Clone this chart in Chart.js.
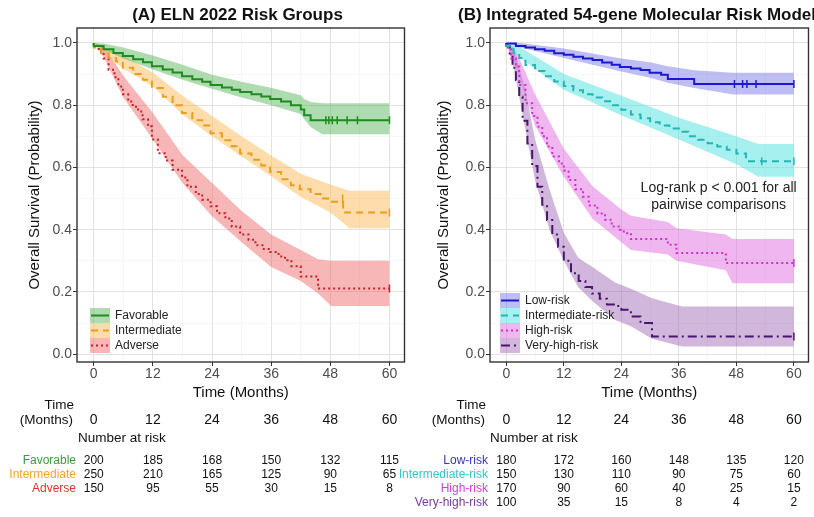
<!DOCTYPE html>
<html>
<head>
<meta charset="utf-8">
<script src="https://cdn.jsdelivr.net/npm/chart.js@4.4.0/dist/chart.umd.min.js"></script>
<style>
  html, body { margin: 0; padding: 0; background: #fff; }
  #wrap { position: relative; width: 814px; height: 517px; overflow: hidden; }
  canvas { position: absolute; top: 0; }
  #chartA { left: 0; }
  #chartB { left: 400px; }
</style>
</head>
<body>
<div id="wrap">
  <canvas id="chartA" width="410" height="517"></canvas>
  <canvas id="chartB" width="414" height="517"></canvas>
</div>
<script>
// Kaplan-Meier curves: ELN 2022 vs 54-gene model

const xTickVals = [0, 6, 12, 18, 24, 30, 36, 42, 48, 54, 60];
const yTickVals = [0, 0.1, 0.2, 0.3, 0.4, 0.5, 0.6, 0.7, 0.8, 0.9, 1.0];
const riskTimes = [0, 12, 24, 36, 48, 60];

// ---- Panel A: ELN 2022 ----
const favTime = [0, 2, 4, 5.9, 8, 10, 11.8, 14, 16, 17.9, 20, 22, 23.7, 26, 28, 29.7, 32, 34, 35.8, 38, 40, 42, 42.7, 44, 46.4, 60];
const favSurv = [1, 0.99, 0.98, 0.968, 0.958, 0.948, 0.938, 0.925, 0.915, 0.905, 0.893, 0.883, 0.875, 0.865, 0.857, 0.85, 0.842, 0.835, 0.828, 0.82, 0.812, 0.80, 0.786, 0.768, 0.752, 0.752];
const favBandTime = [0, 2, 6, 12, 18, 24, 30, 36, 42, 42.7, 44, 46.4, 60];
const favLow = [1, 0.978, 0.95, 0.915, 0.882, 0.853, 0.825, 0.80, 0.772, 0.755, 0.73, 0.707, 0.707];
const favHigh = [1, 0.998, 0.985, 0.96, 0.93, 0.898, 0.875, 0.856, 0.832, 0.82, 0.81, 0.806, 0.806];
const favCensor = [47.1, 47.7, 48.4, 49.4, 51.4, 53.5, 60];

const intTime = [0, 1.5, 3, 4.5, 5.9, 8, 10, 11.8, 14, 16, 17.9, 20, 22, 23.7, 26, 28, 29.7, 32, 34, 35.8, 38, 40, 41.8, 44, 46, 47.9, 50.6, 51.9, 60];
const intSurv = [1, 0.985, 0.967, 0.952, 0.94, 0.92, 0.90, 0.882, 0.855, 0.827, 0.80, 0.775, 0.752, 0.735, 0.71, 0.687, 0.668, 0.645, 0.625, 0.606, 0.585, 0.562, 0.543, 0.53, 0.515, 0.50, 0.49, 0.455, 0.455];
const intBandTime = [0, 3, 6, 12, 18, 24, 30, 36, 42, 48, 51.9, 60];
const intLow = [1, 0.955, 0.918, 0.86, 0.77, 0.70, 0.635, 0.572, 0.505, 0.455, 0.405, 0.405];
const intHigh = [1, 0.98, 0.958, 0.905, 0.83, 0.765, 0.70, 0.638, 0.58, 0.545, 0.525, 0.525];
const intCensor = [50.5, 60];

const advTime = [0, 1, 2, 3, 4.2, 5, 5.9, 7, 7.9, 9, 9.9, 11, 11.8, 13, 14.6, 16, 17.9, 19, 20.7, 22, 23.7, 25, 26.7, 28, 29.7, 31.4, 32.8, 34.5, 35.8, 37.5, 38.8, 40.1, 42, 45.5, 48.2, 60];
const advSurv = [1, 0.99, 0.972, 0.95, 0.914, 0.89, 0.86, 0.835, 0.812, 0.795, 0.78, 0.755, 0.732, 0.69, 0.646, 0.622, 0.593, 0.568, 0.538, 0.515, 0.496, 0.475, 0.453, 0.436, 0.41, 0.385, 0.368, 0.35, 0.338, 0.328, 0.314, 0.302, 0.283, 0.25, 0.211, 0.211];
const advBandTime = [0, 2, 6, 12, 18, 24, 30, 36, 42, 45.5, 48.2, 60];
const advLow = [1, 0.955, 0.825, 0.69, 0.55, 0.443, 0.36, 0.28, 0.235, 0.195, 0.155, 0.155];
const advHigh = [1, 0.99, 0.895, 0.775, 0.64, 0.55, 0.46, 0.385, 0.335, 0.305, 0.30, 0.30];
const advCensor = [60];

const atRiskFavorable = [200, 185, 168, 150, 132, 115];
const atRiskIntermediate = [250, 210, 165, 125, 90, 65];
const atRiskAdverse = [150, 95, 55, 30, 15, 8];

// ---- Panel B: 54-gene model ----
const lowTime = [0, 2, 4, 6, 8, 10, 12, 14, 16, 18, 20, 22, 23.7, 26, 28, 29.9, 32.3, 33.7, 39.2, 47.3, 60];
const lowSurv = [1, 0.998, 0.99, 0.985, 0.98, 0.975, 0.967, 0.962, 0.956, 0.95, 0.945, 0.937, 0.93, 0.923, 0.918, 0.913, 0.904, 0.898, 0.884, 0.868, 0.868];
const lowBandTime = [0, 3, 12, 24, 30, 33.7, 39.2, 47.3, 60];
const lowLow = [1, 0.985, 0.952, 0.908, 0.888, 0.872, 0.855, 0.834, 0.834];
const lowHigh = [1, 1.0, 0.982, 0.95, 0.938, 0.925, 0.912, 0.904, 0.904];
const lowCensor = [47.6, 49.3, 50.2, 52.1, 60];

const imrTime = [0, 1.5, 2.7, 4, 6, 8, 10, 12, 14, 16, 18, 20, 22, 24, 26, 28, 30, 32, 34, 36, 38, 40, 42, 44, 46, 48, 50, 52.6, 60];
const imrSurv = [1, 0.99, 0.967, 0.952, 0.929, 0.91, 0.893, 0.876, 0.862, 0.848, 0.835, 0.825, 0.813, 0.80, 0.785, 0.77, 0.758, 0.745, 0.735, 0.725, 0.715, 0.70, 0.689, 0.678, 0.667, 0.657, 0.645, 0.62, 0.62];
const imrBandTime = [0, 3, 12, 24, 36, 48, 52.6, 60];
const imrLow = [1, 0.95, 0.85, 0.768, 0.69, 0.61, 0.57, 0.57];
const imrHigh = [1, 0.985, 0.90, 0.83, 0.76, 0.70, 0.675, 0.675];
const imrCensor = [53.3, 60];

const hiTime = [0, 1, 2, 2.7, 4, 5.4, 6.5, 7.5, 8.5, 9.6, 11, 12, 13, 14.4, 16, 17.2, 19, 20.6, 22, 23.7, 24.5, 26, 33.7, 35.5, 45.8, 47.2, 60];
const hiSurv = [1, 0.985, 0.95, 0.924, 0.865, 0.806, 0.765, 0.731, 0.70, 0.667, 0.635, 0.613, 0.59, 0.56, 0.53, 0.506, 0.478, 0.452, 0.432, 0.41, 0.40, 0.389, 0.37, 0.352, 0.325, 0.293, 0.293];
const hiBandTime = [0, 2, 6, 12, 18, 24, 26, 33.7, 35.5, 45.8, 47.2, 60];
const hiLow = [1, 0.925, 0.735, 0.57, 0.435, 0.36, 0.335, 0.32, 0.30, 0.27, 0.228, 0.228];
const hiHigh = [1, 0.975, 0.835, 0.66, 0.54, 0.465, 0.445, 0.425, 0.405, 0.385, 0.37, 0.37];
const hiCensor = [60];

const vhTime = [0, 0.7, 1.3, 2, 2.7, 3.4, 4.4, 5.4, 6.5, 7.5, 8.5, 9.6, 10.8, 12, 13.5, 15.1, 16.5, 17.9, 19.5, 21, 22.7, 24, 26, 28, 30.4, 36.7, 60];
const vhSurv = [1, 0.99, 0.956, 0.92, 0.88, 0.827, 0.75, 0.677, 0.605, 0.538, 0.48, 0.431, 0.385, 0.345, 0.30, 0.26, 0.235, 0.216, 0.195, 0.178, 0.16, 0.155, 0.143, 0.121, 0.10, 0.057, 0.057];
const vhBandTime = [0, 1.5, 4, 6, 9, 12, 15, 18, 22.7, 26, 30.4, 36.7, 60];
const vhLow = [1, 0.925, 0.72, 0.56, 0.40, 0.30, 0.215, 0.17, 0.11, 0.09, 0.05, 0.025, 0.025];
const vhHigh = [1, 0.985, 0.85, 0.69, 0.53, 0.39, 0.31, 0.28, 0.23, 0.21, 0.18, 0.153, 0.153];
const vhCensor = [60];

const atRiskLow = [180, 172, 160, 148, 135, 120];
const atRiskIntRisk = [150, 130, 110, 90, 75, 60];
const atRiskHigh = [170, 90, 60, 40, 25, 15];
const atRiskVeryHigh = [100, 35, 15, 8, 4, 2];

const FONT = '"Liberation Sans", Arial, Helvetica, sans-serif';

function toXY(xs, ys) {
    return xs.map((x, i) => ({ x: x, y: ys[i] }));
}

// value of a step curve at time t (no interpolation)
function stepAt(xs, ys, t) {
    let v = ys[0];
    for (let i = 0; i < xs.length; i++) {
        if (xs[i] <= t) v = ys[i];
    }
    return v;
}

const groupsA = [
    { label: 'Favorable', color: '#1e8c1e', band: 'rgba(76,175,80,0.45)', text: '#3c9c3c', dash: [],
      time: favTime, surv: favSurv, bandTime: favBandTime, low: favLow, high: favHigh, censor: favCensor, atRisk: atRiskFavorable },
    { label: 'Intermediate', color: '#e8a01a', band: 'rgba(253,185,90,0.5)', text: '#f5a52a', dash: [7, 5],
      time: intTime, surv: intSurv, bandTime: intBandTime, low: intLow, high: intHigh, censor: intCensor, atRisk: atRiskIntermediate },
    { label: 'Adverse', color: '#c8202a', band: 'rgba(240,95,95,0.45)', text: '#e0342c', dash: [2, 3],
      time: advTime, surv: advSurv, bandTime: advBandTime, low: advLow, high: advHigh, censor: advCensor, atRisk: atRiskAdverse }
];

const groupsB = [
    { label: 'Low-risk', color: '#1a1acc', band: 'rgba(110,110,230,0.45)', text: '#3535b5', dash: [],
      time: lowTime, surv: lowSurv, bandTime: lowBandTime, low: lowLow, high: lowHigh, censor: lowCensor, atRisk: atRiskLow },
    { label: 'Intermediate-risk', color: '#25b5b5', band: 'rgba(80,225,225,0.5)', text: '#35c5c8', dash: [7, 5],
      time: imrTime, surv: imrSurv, bandTime: imrBandTime, low: imrLow, high: imrHigh, censor: imrCensor, atRisk: atRiskIntRisk },
    { label: 'High-risk', color: '#d030d0', band: 'rgba(225,110,225,0.5)', text: '#d23fd2', dash: [2, 3],
      time: hiTime, surv: hiSurv, bandTime: hiBandTime, low: hiLow, high: hiHigh, censor: hiCensor, atRisk: atRiskHigh },
    { label: 'Very-high-risk', color: '#4b1470', band: 'rgba(150,95,175,0.45)', text: '#7a3a9a', dash: [9, 4, 2, 4],
      time: vhTime, surv: vhSurv, bandTime: vhBandTime, low: vhLow, high: vhHigh, censor: vhCensor, atRisk: atRiskVeryHigh }
];

function buildDatasets(groups) {
    const ds = [];
    // confidence bands first (upper, then lower filled to it)
    groups.forEach(g => {
        ds.push({ data: toXY(g.bandTime, g.high), borderColor: 'transparent', borderWidth: 0,
                  pointRadius: 0, fill: false, order: 1 });
        ds.push({ data: toXY(g.bandTime, g.low), borderColor: 'transparent', borderWidth: 0,
                  pointRadius: 0, fill: '-1', backgroundColor: g.band, order: 1 });
    });
    groups.forEach(g => {
        ds.push({ label: g.label, data: toXY(g.time, g.surv), stepped: 'after',
                  borderColor: g.color, borderWidth: 2, borderDash: g.dash,
                  pointRadius: 0, fill: false, order: 0 });
        // censor ticks
        ds.push({ data: g.censor.map(t => ({ x: t, y: stepAt(g.time, g.surv, t) })),
                  showLine: false, borderColor: g.color, pointStyle: 'line', pointRotation: 90,
                  pointRadius: 4, pointBorderColor: g.color, pointBorderWidth: 1.5, order: 0 });
    });
    return ds;
}

function decor(p) {
    return {
        id: 'decor',
        afterDraw(chart) {
            const ctx = chart.ctx;
            const a = chart.chartArea;
            const xs = chart.scales.x;
            ctx.save();

            // panel border
            ctx.strokeStyle = '#333';
            ctx.lineWidth = 1.4;
            ctx.setLineDash([]);
            ctx.strokeRect(a.left, a.top, a.right - a.left, a.bottom - a.top);

            // title
            ctx.fillStyle = '#111';
            ctx.textBaseline = 'middle';
            ctx.textAlign = p.titleAlign;
            ctx.font = 'bold 17px ' + FONT;
            ctx.fillText(p.title, p.titleX, 15);

            // legend inside the panel
            const rowH = 15;
            const lx = a.left + p.legendDx;
            const top = a.bottom - 9 - p.groups.length * rowH;
            ctx.font = '12px ' + FONT;
            p.groups.forEach((g, i) => {
                const y = top + i * rowH;
                ctx.fillStyle = g.band;
                ctx.fillRect(lx, y, 20, rowH);
                ctx.strokeStyle = g.color;
                ctx.lineWidth = 2;
                ctx.setLineDash(g.dash);
                ctx.beginPath();
                ctx.moveTo(lx + 1, y + rowH / 2);
                ctx.lineTo(lx + 19, y + rowH / 2);
                ctx.stroke();
                ctx.setLineDash([]);
                ctx.fillStyle = '#222';
                ctx.textAlign = 'left';
                ctx.fillText(g.label, lx + 25, y + rowH / 2 + 0.5);
            });

            // annotation
            if (p.note) {
                ctx.font = '14px ' + FONT;
                ctx.fillStyle = '#222';
                ctx.textAlign = 'center';
                const nx = xs.getPixelForValue(44.3);
                p.note.forEach((line, i) => {
                    ctx.fillText(line, nx, chart.scales.y.getPixelForValue(0.534) + i * 17);
                });
            }

            // number-at-risk table
            ctx.fillStyle = '#111';
            ctx.font = '13.5px ' + FONT;
            ctx.textAlign = 'right';
            ctx.fillText('Time', p.labelRight - 2, 405);
            ctx.fillText('(Months)', p.labelRight - 3, 420);
            ctx.font = '14px ' + FONT;
            ctx.textAlign = 'center';
            riskTimes.forEach(t => ctx.fillText(String(t), xs.getPixelForValue(t), 420));
            ctx.font = '13.5px ' + FONT;
            ctx.textAlign = 'left';
            ctx.fillText('Number at risk', p.labelRight + 2, 438);

            ctx.font = '12px ' + FONT;
            p.groups.forEach((g, i) => {
                const y = 461 + i * 14;
                ctx.textAlign = 'right';
                ctx.fillStyle = g.text;
                ctx.fillText(g.label, p.labelRight, y);
                ctx.textAlign = 'center';
                ctx.fillStyle = '#111';
                g.atRisk.forEach((n, j) => ctx.fillText(String(n), xs.getPixelForValue(riskTimes[j]), y));
            });

            ctx.restore();
        }
    };
}

function makeOptions(p) {
    const majorX = c => c.tick && c.tick.value % 12 === 0;
    const majorY = c => c.tick && Math.round(c.tick.value * 10) % 2 === 0;
    return {
        responsive: false,
        animation: false,
        events: [],
        layout: { padding: { left: 0, right: p.padRight, top: 28, bottom: 115 } },
        plugins: { legend: { display: false }, tooltip: { enabled: false } },
        scales: {
            x: {
                type: 'linear', min: -3.4, max: 63.05,
                afterBuildTicks: s => { s.ticks = xTickVals.map(v => ({ value: v })); },
                afterFit: s => { s.height = 40; },
                ticks: {
                    autoSkip: false, maxRotation: 0, padding: 0,
                    color: '#4d4d4d', font: { family: FONT, size: 14 },
                    callback: v => (v % 12 === 0 ? String(v) : '')
                },
                grid: {
                    color: c => (majorX(c) ? '#e2e2e2' : '#f2f2f2'),
                    lineWidth: c => (majorX(c) ? 1 : 0.7),
                    tickColor: c => (majorX(c) ? '#333' : 'rgba(0,0,0,0)'),
                    tickLength: 4, drawTicks: true
                },
                border: { display: false },
                title: { display: true, text: 'Time (Months)', color: '#111',
                         font: { family: FONT, size: 15 }, padding: { top: 0, bottom: 0 } }
            },
            y: {
                type: 'linear', min: -0.025, max: 1.048,
                afterBuildTicks: s => { s.ticks = yTickVals.map(v => ({ value: v })); },
                afterFit: s => { s.width = p.yWidth; },
                ticks: {
                    autoSkip: false, padding: 1,
                    color: '#4d4d4d', font: { family: FONT, size: 14 },
                    callback: v => (Math.round(v * 10) % 2 === 0 ? v.toFixed(1) : '')
                },
                grid: {
                    color: c => (majorY(c) ? '#e2e2e2' : '#f2f2f2'),
                    lineWidth: c => (majorY(c) ? 1 : 0.7),
                    tickColor: c => (majorY(c) ? '#333' : 'rgba(0,0,0,0)'),
                    tickLength: 4, drawTicks: true
                },
                border: { display: false },
                title: { display: true, text: 'Overall Survival (Probability)', color: '#111',
                         font: { family: FONT, size: 15 }, padding: { top: p.yTitlePad, bottom: 0 } }
            }
        }
    };
}

const panelA = { title: '(A) ELN 2022 Risk Groups', titleAlign: 'center', titleX: 237.5,
                 groups: groupsA, legendDx: 13, labelRight: 76, note: null,
                 padRight: 3, yWidth: 77, yTitlePad: 26 };
const panelB = { title: '(B) Integrated 54-gene Molecular Risk Model', titleAlign: 'left', titleX: 58,
                 groups: groupsB, legendDx: 10, labelRight: 88,
                 note: ['Log-rank p < 0.001 for all', 'pairwise comparisons'],
                 padRight: 2, yWidth: 90, yTitlePad: 35 };

new Chart(document.getElementById('chartA'), {
    type: 'line',
    data: { datasets: buildDatasets(groupsA) },
    options: makeOptions(panelA),
    plugins: [decor(panelA)]
});

new Chart(document.getElementById('chartB'), {
    type: 'line',
    data: { datasets: buildDatasets(groupsB) },
    options: makeOptions(panelB),
    plugins: [decor(panelB)]
});
</script>
</body>
</html>
